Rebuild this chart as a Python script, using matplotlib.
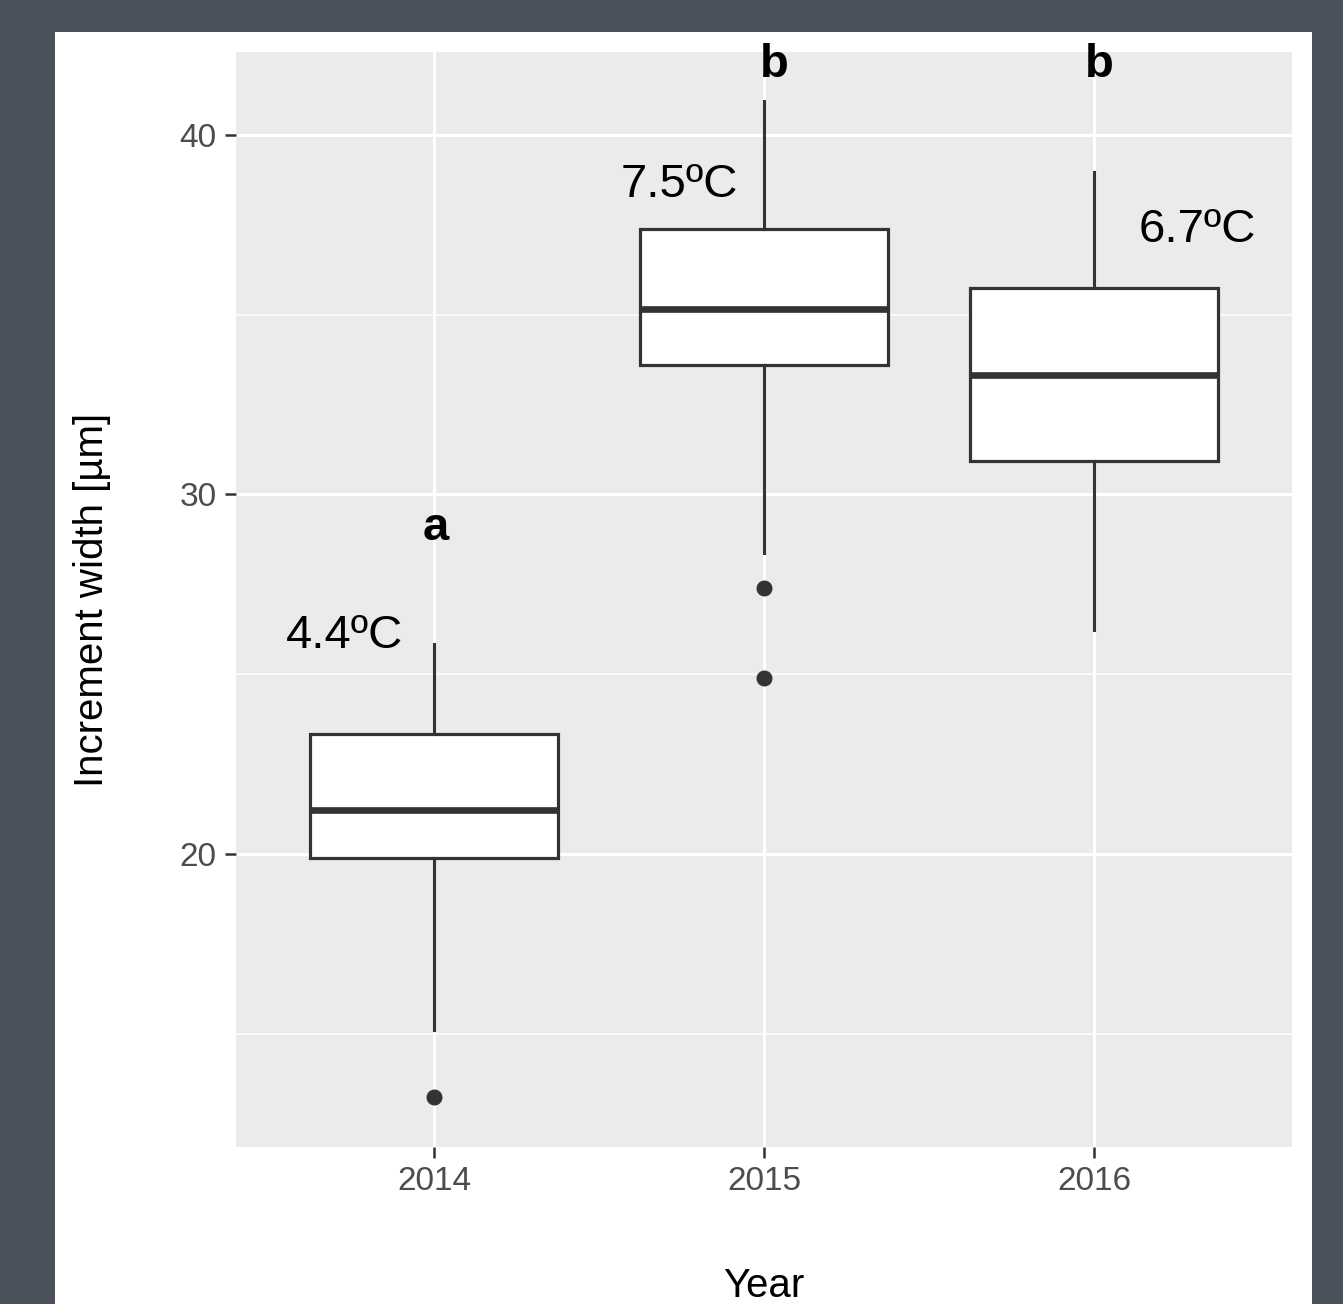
import matplotlib
matplotlib.use("Agg")
import matplotlib.pyplot as plt
from matplotlib.patches import Rectangle

plt.rcParams['font.family'] = ['Liberation Sans', 'DejaVu Sans']

# ---- data ----
years = ["2014", "2015", "2016"]
q1 = [19.89, 33.60, 30.94]
med = [21.22, 35.16, 33.32]
q3 = [23.34, 37.39, 35.73]
whislo = [15.10, 28.37, 26.23]
whishi = [25.84, 40.93, 38.97]
fliers = [[13.24], [27.40, 24.90], []]

letters = ["a", "b", "b"]
letter_y = [28.73, 41.61, 41.61]
letter_dx = [0.005, 0.03, 0.015]

temps = ["4.4ºC", "7.5ºC", "6.7ºC"]
temp_x = [0.73, 1.743, 3.313]
temp_y = [25.73, 38.28, 37.02]

# ---- figure ----
W, H = 1343, 1304
fig = plt.figure(figsize=(W / 100, H / 100), dpi=100, facecolor='#4A515B')
fig.patches.append(Rectangle((55 / W, 0), (1312 - 55) / W, (1304 - 32) / H,
                             transform=fig.transFigure, facecolor='white',
                             edgecolor='none', zorder=-10))

ax = fig.add_axes([236 / W, (H - 1147) / H, (1292 - 236) / W, (1147 - 52) / H])
ax.set_zorder(1)
ax.set_facecolor('#EBEBEB')
for s in ax.spines.values():
    s.set_visible(False)

stats = []
for i, y in enumerate(years):
    stats.append(dict(label=y, q1=q1[i], med=med[i], q3=q3[i],
                      whislo=whislo[i], whishi=whishi[i], fliers=fliers[i]))

positions = list(range(1, len(years) + 1))
dark = '#333333'
ax.bxp(stats, positions=positions, widths=0.75, patch_artist=True,
       showcaps=False,
       boxprops=dict(facecolor='white', edgecolor=dark, linewidth=2.3),
       medianprops=dict(color=dark, linewidth=4.8, solid_capstyle='butt'),
       whiskerprops=dict(color=dark, linewidth=2.2),
       flierprops=dict(marker='o', markerfacecolor=dark, markeredgecolor=dark,
                       markersize=10.5),
       zorder=3)

ax.set_xlim(0.4, 3.6)
ax.set_ylim(11.86, 42.30)
ax.set_yticks([20, 30, 40])
ax.set_yticks([15, 25, 35], minor=True)
ax.set_xticks(positions)
ax.set_xticklabels(years)

ax.grid(True, which='major', color='white', linewidth=2.2, zorder=0)
ax.grid(True, which='minor', axis='y', color='white', linewidth=1.1, zorder=0)
ax.set_axisbelow(True)

ax.tick_params(axis='both', which='major', length=8, width=1.8, color=dark,
               labelsize=24, labelcolor='#4D4D4D', pad=6)
ax.tick_params(axis='y', which='minor', length=0)

ax.set_xlabel("Year", fontsize=29, color='black', va='baseline')
ax.xaxis.set_label_coords(0.5, (1147 - 1297) / (1147 - 52))
ax.set_ylabel("Increment width [µm]", fontsize=29, color='black', va='center')
ax.yaxis.set_label_coords((92 - 236) / (1292 - 236), 0.5)

for i in range(len(years)):
    ax.text(positions[i] + letter_dx[i], letter_y[i], letters[i], fontsize=34,
            fontweight='bold', ha='center', va='baseline', color='black',
            clip_on=False, zorder=5)
    ax.text(temp_x[i], temp_y[i], temps[i], fontsize=34, ha='center',
            va='baseline', color='black', clip_on=False, zorder=5)

fig.savefig("out.png", dpi=100, facecolor=fig.get_facecolor())
